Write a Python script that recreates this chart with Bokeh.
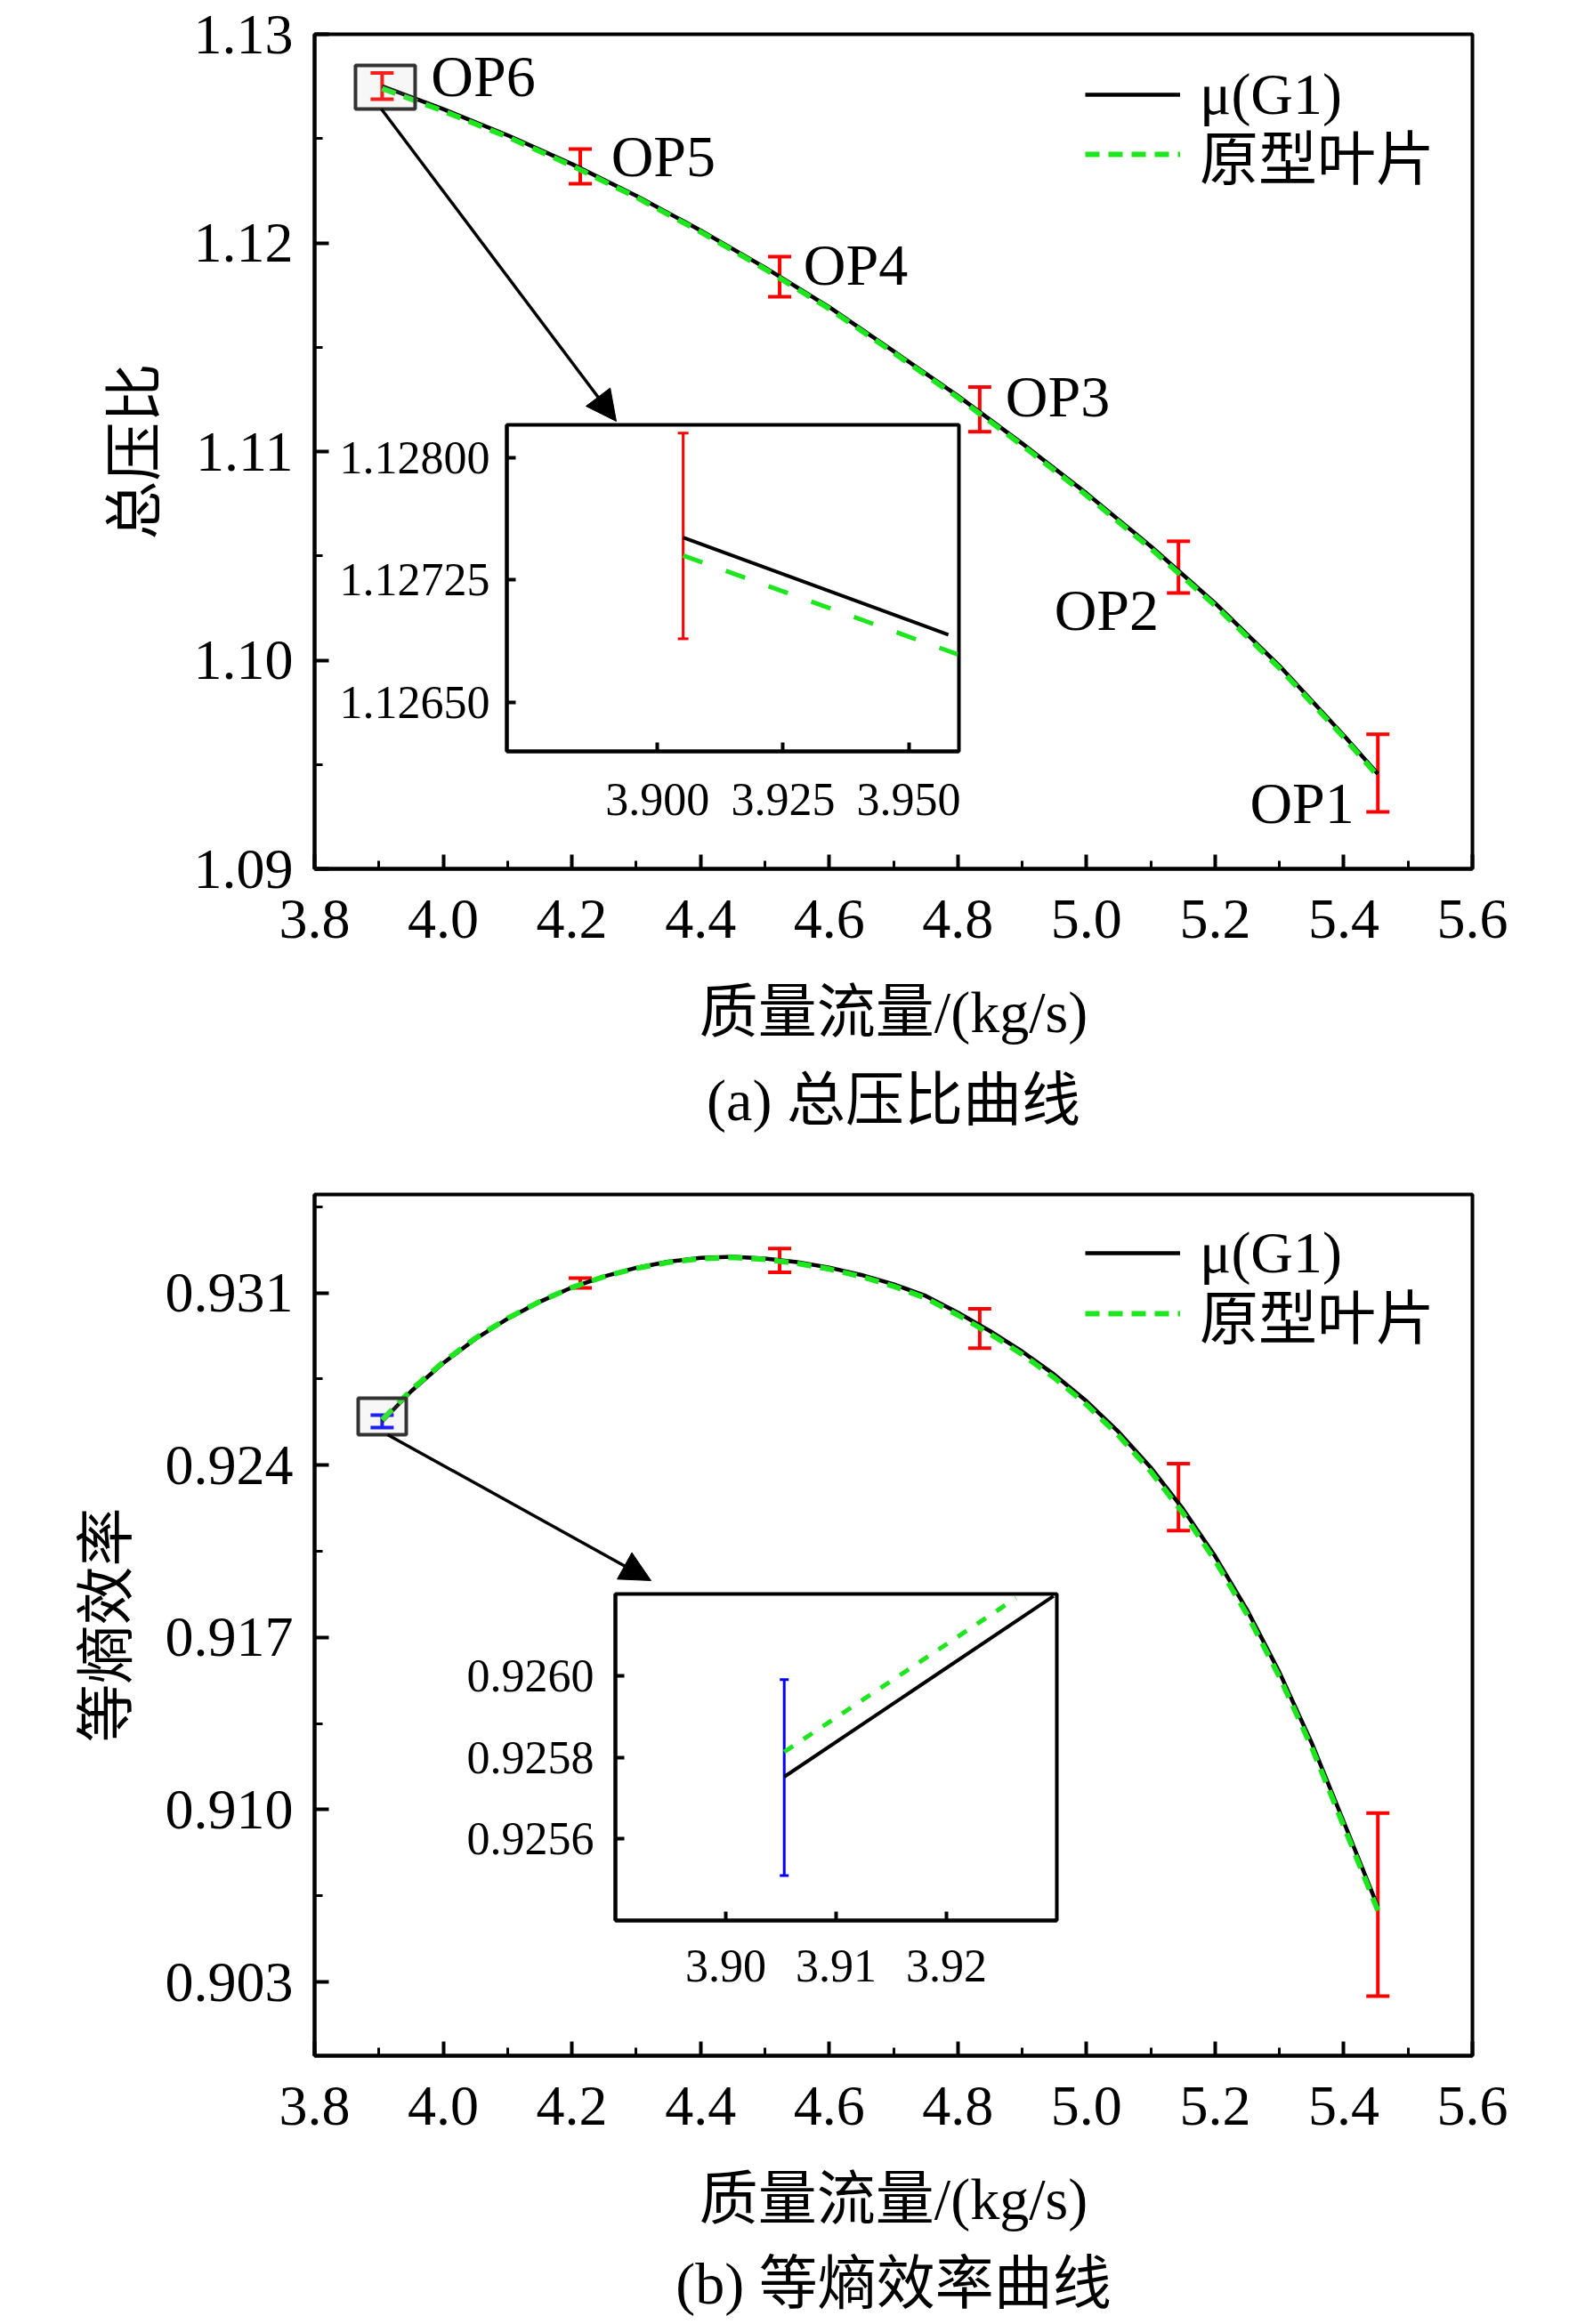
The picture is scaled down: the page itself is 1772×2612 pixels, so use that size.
from bokeh.plotting import figure
from bokeh.models import (Range1d, FixedTicker, PrintfTickFormatter, Whisker, TeeHead,
                          ColumnDataSource, Arrow, NormalHead, Title, Legend, LegendItem)
from bokeh.layouts import column
from bokeh.core.properties import value
from bokeh.embed import file_html
from bokeh.resources import INLINE

# ---------------- data ----------------
op_names = ["OP6", "OP5", "OP4", "OP3", "OP2", "OP1"]
op_flow = [3.905, 4.213, 4.523, 4.834, 5.143, 5.453]

flow_a = [3.905, 4.0, 4.1, 4.2, 4.3, 4.4, 4.5, 4.6, 4.7, 4.8, 4.9, 5.0, 5.1, 5.2, 5.3, 5.4, 5.453]
pr_g1 = [1.12751, 1.12641, 1.12516, 1.12378, 1.12226, 1.12060, 1.11882, 1.11692, 1.11481,
         1.11267, 1.11039, 1.10800, 1.10546, 1.10273, 1.09973, 1.09640, 1.09455]
pr_proto = [1.12740, 1.12632, 1.12508, 1.12370, 1.12219, 1.12053, 1.11875, 1.11685, 1.11474,
            1.11259, 1.11030, 1.10790, 1.10535, 1.10262, 1.09962, 1.09630, 1.09445]
pr_err_mid = [1.12752, 1.12367, 1.11838, 1.11202, 1.10446, 1.09459]
pr_err_half = [0.00063, 0.00083, 0.00096, 0.00107, 0.00124, 0.00186]

flow_b = [3.905, 3.95, 4.0, 4.05, 4.1, 4.15, 4.2, 4.25, 4.3, 4.35, 4.4, 4.45, 4.5, 4.55, 4.6,
          4.65, 4.7, 4.75, 4.8, 4.85, 4.9, 4.95, 5.0, 5.05, 5.1, 5.15, 5.2, 5.25, 5.3, 5.35,
          5.4, 5.453]
eff_g1 = [0.92578, 0.92700, 0.92815, 0.92913, 0.92995, 0.93064, 0.93122, 0.93167, 0.93202,
          0.93227, 0.93242, 0.93247, 0.93240, 0.93225, 0.93203, 0.93173, 0.93135, 0.93088,
          0.93020, 0.92945, 0.92862, 0.92768, 0.92660, 0.92535, 0.92390, 0.92222, 0.92030,
          0.91810, 0.91558, 0.91272, 0.90950, 0.90605]
eff_proto = [0.92584, 0.92705, 0.92819, 0.92916, 0.92997, 0.93065, 0.93122, 0.93166, 0.93200,
             0.93224, 0.93239, 0.93244, 0.93236, 0.93220, 0.93197, 0.93166, 0.93127, 0.93079,
             0.93010, 0.92934, 0.92850, 0.92755, 0.92646, 0.92520, 0.92374, 0.92205, 0.92012,
             0.91792, 0.91540, 0.91254, 0.90933, 0.90590]
eff_err_mid = [0.92578, 0.93140, 0.93232, 0.92955, 0.92270, 0.90614]
eff_err_half = [0.00025, 0.00020, 0.00048, 0.00080, 0.00136, 0.00372]

# inset (a) : zoom on OP6
ins_a_flow_g1 = [3.9051, 3.9579]
ins_a_pr_g1 = [1.12751, 1.126915]
ins_a_flow_proto = [3.9051, 3.9597]
ins_a_pr_proto = [1.12740, 1.126795]
ins_a_err_x = [3.9051]
ins_a_err_mid = [1.12752]
ins_a_err_half = [0.00063]
# inset (b)
ins_b_flow_g1 = [3.9053, 3.9297]
ins_b_eff_g1 = [0.925752, 0.926195]
ins_b_flow_proto = [3.9053, 3.9263]
ins_b_eff_proto = [0.925813, 0.92619]
ins_b_err_x = [3.9053]
ins_b_err_mid = [0.92575]
ins_b_err_half = [0.00024]

# ticks
x_ticks = [3.8, 4.0, 4.2, 4.4, 4.6, 4.8, 5.0, 5.2, 5.4, 5.6]
x_minor = [3.9, 4.1, 4.3, 4.5, 4.7, 4.9, 5.1, 5.3, 5.5]
pr_ticks = [1.09, 1.10, 1.11, 1.12, 1.13]
pr_minor = [1.095, 1.105, 1.115, 1.125]
eff_ticks = [0.903, 0.910, 0.917, 0.924, 0.931]
eff_minor = [0.9065, 0.9135, 0.9205, 0.9275, 0.9345]
ins_a_xticks = [3.900, 3.925, 3.950]
ins_a_yticks = [1.12650, 1.12725, 1.12800]
ins_b_xticks = [3.90, 3.91, 3.92]
ins_b_yticks = [0.9256, 0.9258, 0.9260]

# annotation data (zoom box, arrows, OP labels, captions)
box_a = dict(left=[3.8636], right=[3.9563], bottom=[1.12642], top=[1.12851])
box_b = dict(left=[3.8678], right=[3.9425], bottom=[0.92524], top=[0.92672])
arrow_a = (3.9038, 1.12642, 4.269, 1.11145)
arrow_b = (3.9134, 0.92524, 4.323, 0.91931)
op_label_x = [3.981, 4.261, 4.560, 4.874, 4.950, 5.254]
op_label_y = [1.12800, 1.12416, 1.11896, 1.11264, 1.10241, 1.09316]
caption_a = "(a) 总压比曲线"
caption_b = "(b) 等熵效率曲线"
legend_labels = ["μ(G1)", "原型叶片"]

SERIF = "Liberation Serif, Noto Sans CJK SC"
GREEN = "#1ee61e"
FS_TICK = "64px"
FS = "66px"


def style_axes(p, yticks, yminor, yfmt, ylabel):
    xa, ya = p.xaxis[0], p.yaxis[0]
    xa.ticker = FixedTicker(ticks=x_ticks, minor_ticks=x_minor)
    xa.formatter = PrintfTickFormatter(format="%.1f")
    ya.ticker = FixedTicker(ticks=yticks, minor_ticks=yminor)
    ya.formatter = PrintfTickFormatter(format=yfmt)
    xa.axis_label = "质量流量/(kg/s)"
    ya.axis_label = ylabel
    for ax in (xa, ya):
        ax.axis_line_width = 4
        ax.major_tick_line_width = 4
        ax.minor_tick_line_width = 3
        ax.major_tick_in = 16
        ax.major_tick_out = 0
        ax.minor_tick_in = 9
        ax.minor_tick_out = 0
        ax.major_label_text_font = SERIF
        ax.major_label_text_font_size = FS_TICK
        ax.major_label_text_color = "black"
        ax.axis_label_text_font = SERIF
        ax.axis_label_text_font_size = FS
        ax.axis_label_text_font_style = "normal"
        ax.axis_label_text_color = "black"
    xa.major_label_standoff = 35
    xa.axis_label_standoff = 44
    ya.major_label_standoff = 24
    ya.axis_label_standoff = 27
    p.xgrid.grid_line_color = None
    p.ygrid.grid_line_color = None


def main_fig(yr, top_b, fh, bot_b):
    p = figure(frame_width=1301, frame_height=fh, min_border_left=353, min_border_right=118,
               min_border_top=top_b, min_border_bottom=bot_b,
               x_range=Range1d(3.8, 5.6), y_range=Range1d(*yr),
               output_backend="svg", toolbar_location=None,
               outline_line_color="black", outline_line_width=4,
               background_fill_color="white", border_fill_color="white")
    return p


def add_err(p, xs, mids, halfs, color, width, cap):
    src = ColumnDataSource(dict(x=xs,
                                lower=[m - h for m, h in zip(mids, halfs)],
                                upper=[m + h for m, h in zip(mids, halfs)]))
    w = Whisker(source=src, base="x", lower="lower", upper="upper", dimension="height",
                line_color=color, line_width=width,
                upper_head=TeeHead(size=cap, line_color=color, line_width=width),
                lower_head=TeeHead(size=cap, line_color=color, line_width=width))
    p.add_layout(w)


def add_legend(p, renderers, locs):
    for lab, r, loc in zip(legend_labels, renderers, locs):
        leg = Legend(items=[LegendItem(label=lab, renderers=[r])],
                     location=loc, padding=0, margin=0, spacing=0,
                     glyph_width=107, glyph_height=60, label_height=60, label_standoff=22,
                     label_text_font=SERIF, label_text_font_size=FS,
                     label_text_color="black",
                     border_line_alpha=0, background_fill_alpha=0)
        p.add_layout(leg)


def add_caption(p, text, standoff):
    p.add_layout(Title(text=text, align="center", text_font=SERIF, text_font_size=FS,
                       text_font_style="normal", text_color="black", standoff=standoff), "below")


def inset_fig(xr, yr, fw, fh, xt, yt, xfmt, yfmt, left, top, lb, bb, xstand, ystand):
    p = figure(frame_width=fw, frame_height=fh, x_range=Range1d(*xr), y_range=Range1d(*yr),
               min_border_left=lb, min_border_right=4, min_border_top=4, min_border_bottom=bb,
               output_backend="svg", toolbar_location=None,
               background_fill_color="white", border_fill_alpha=0,
               outline_line_color="black", outline_line_width=4)
    p.styles = {"position": "absolute", "left": f"{left - lb}px", "top": f"{top - 4}px"}
    xa, ya = p.xaxis[0], p.yaxis[0]
    xa.ticker = FixedTicker(ticks=xt, minor_ticks=[])
    xa.formatter = PrintfTickFormatter(format=xfmt)
    ya.ticker = FixedTicker(ticks=yt, minor_ticks=[])
    ya.formatter = PrintfTickFormatter(format=yfmt)
    for ax in (xa, ya):
        ax.axis_line_width = 4
        ax.major_tick_line_width = 4
        ax.major_tick_in = 10
        ax.major_tick_out = 0
        ax.minor_tick_line_color = None
        ax.major_label_text_font = SERIF
        ax.major_label_text_font_size = "52px"
        ax.major_label_text_color = "black"
    xa.major_label_standoff = xstand
    ya.major_label_standoff = ystand
    p.xgrid.grid_line_color = None
    p.ygrid.grid_line_color = None
    return p


# ---------------- (a) total pressure ratio ----------------
pa = main_fig((1.09, 1.13), 38, 938, 324)
style_axes(pa, pr_ticks, pr_minor, "%.2f", "总压比")
add_err(pa, op_flow, pr_err_mid, pr_err_half, "red", 4, 26)
ra_b = pa.line(flow_a, pr_g1, line_color="black", line_width=4.5)
ra_g = pa.line(flow_a, pr_proto, line_color=GREEN, line_width=6, line_dash="16 10")
pa.quad(left=box_a["left"], right=box_a["right"], bottom=box_a["bottom"], top=box_a["top"],
        fill_color="#cccccc", fill_alpha=0.15, line_color="#333333", line_width=4)
pa.add_layout(Arrow(end=NormalHead(size=34, fill_color="black", line_color="black"),
                    x_start=arrow_a[0], y_start=arrow_a[1], x_end=arrow_a[2], y_end=arrow_a[3],
                    line_color="black", line_width=3.5))
pa.text(x=op_label_x, y=op_label_y, text=op_names, text_font=value(SERIF),
        text_font_size=FS, text_align="left", text_baseline="middle", text_color="black")
add_legend(pa, [ra_b, ra_g], [(866, 832), (866, 755)])
add_caption(pa, caption_a, 42)

# ---------------- (b) isentropic efficiency ----------------
pb = main_fig((0.900, 0.935), 42, 968, 302)
style_axes(pb, eff_ticks, eff_minor, "%.3f", "等熵效率")
add_err(pb, op_flow[1:], eff_err_mid[1:], eff_err_half[1:], "red", 4, 26)
add_err(pb, op_flow[:1], eff_err_mid[:1], eff_err_half[:1], "blue", 4, 26)
rb_b = pb.line(flow_b, eff_g1, line_color="black", line_width=4.5)
rb_g = pb.line(flow_b, eff_proto, line_color=GREEN, line_width=6, line_dash="16 10")
pb.quad(left=box_b["left"], right=box_b["right"], bottom=box_b["bottom"], top=box_b["top"],
        fill_color="#cccccc", fill_alpha=0.15, line_color="#333333", line_width=4)
pb.add_layout(Arrow(end=NormalHead(size=34, fill_color="black", line_color="black"),
                    x_start=arrow_b[0], y_start=arrow_b[1], x_end=arrow_b[2], y_end=arrow_b[3],
                    line_color="black", line_width=3.5))
add_legend(pb, [rb_b, rb_g], [(866, 864), (866, 786)])
add_caption(pb, caption_b, 35)

# ---------------- insets ----------------
ia = inset_fig((3.870, 3.960), (1.1262, 1.1282), 508, 367, ins_a_xticks, ins_a_yticks,
               "%.3f", "%.5f", 569, 477, 230, 110, 36, 19)
add_err(ia, ins_a_err_x, ins_a_err_mid, ins_a_err_half, "red", 3, 12)
ia.line(ins_a_flow_g1, ins_a_pr_g1, line_color="black", line_width=4)
ia.line(ins_a_flow_proto, ins_a_pr_proto, line_color=GREEN, line_width=5, line_dash="23 28")

ib = inset_fig((3.89, 3.93), (0.9254, 0.9262), 496, 367, ins_b_xticks, ins_b_yticks,
               "%.2f", "%.4f", 691, 1791, 230, 110, 33, 24)
add_err(ib, ins_b_err_x, ins_b_err_mid, ins_b_err_half, "blue", 3, 10)
ib.line(ins_b_flow_g1, ins_b_eff_g1, line_color="black", line_width=4)
ib.line(ins_b_flow_proto, ins_b_eff_proto, line_color=GREEN, line_width=5, line_dash="12 14")

layout = column(pa, pb, spacing=0)

open("out.html", "w").write(file_html([layout, ia, ib], INLINE))
